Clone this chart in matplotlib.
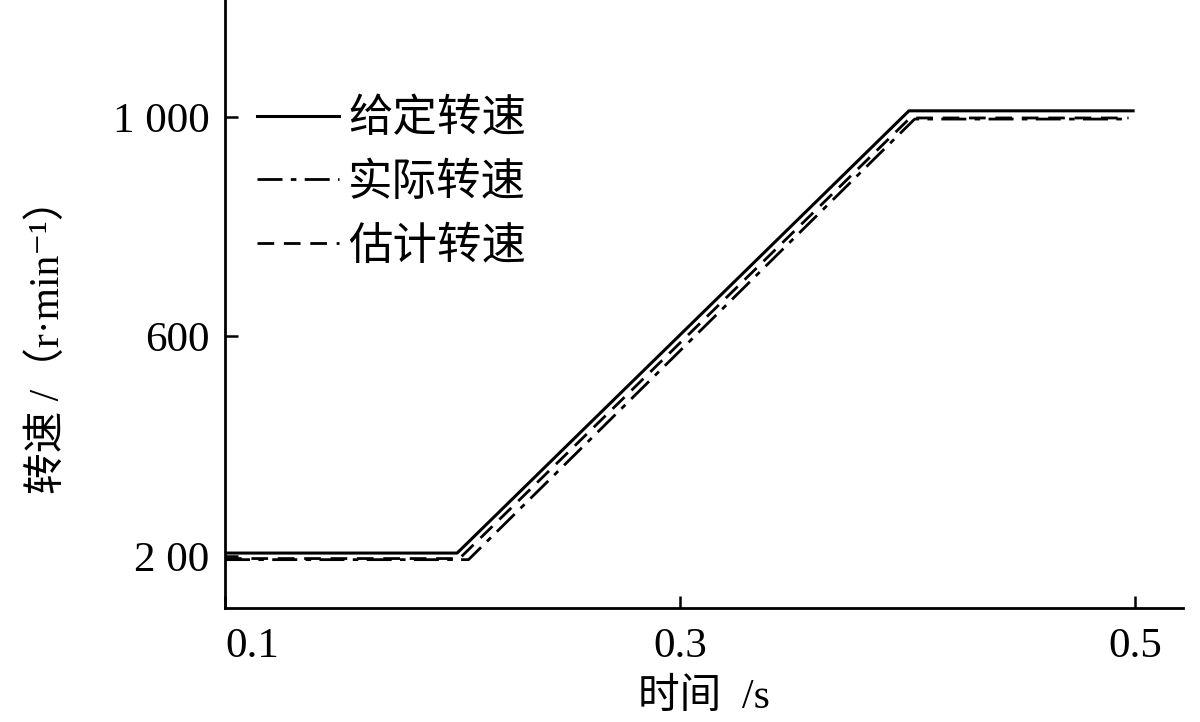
import matplotlib

matplotlib.use("Agg")
import matplotlib.pyplot as plt

plt.rcParams["font.family"] = ["Liberation Serif", "Noto Sans CJK SC", "DejaVu Sans"]

time_given = [0.1, 0.202, 0.4005, 0.499]
speed_given = [205, 205, 1011, 1011]
time_actual = [0.1, 0.207, 0.403, 0.497]
speed_actual = [193, 193, 996, 996]
time_est = [0.1, 0.203, 0.401, 0.497]
speed_est = [195, 195, 998, 998]

labels = ["给定转速", "实际转速", "估计转速"]
xticks = [0.1, 0.3, 0.5]
xtick_labels = ["0.1", "0.3", "0.5"]
yticks = [200, 600, 1000]
ytick_labels = ["2 00", "600", "1 000"]

fig = plt.figure(figsize=(12, 7.22), dpi=100)
ax = fig.add_axes([0.1875, 0.158, 0.7985, 0.842])

ax.plot(time_given, speed_given, color="black", linewidth=2.2, label=labels[0])
ax.plot(time_actual, speed_actual, color="black", linewidth=2.0,
        dashes=(9, 3, 2, 3), label=labels[1])
ax.plot(time_est, speed_est, color="black", linewidth=2.0,
        dashes=(6, 3.5), label=labels[2])

ax.set_xlim(0.1, 0.521)
ax.set_ylim(105, 1213)
ax.set_xticks(xticks, xtick_labels)
ax.set_yticks(yticks, ytick_labels)
ax.get_xticklabels()[0].set_horizontalalignment("left")
ax.tick_params(direction="in", length=9, width=1.8, labelsize=31, pad=11)
ax.tick_params(axis="x", pad=14)

for side in ("top", "right"):
    ax.spines[side].set_visible(False)
for side in ("left", "bottom"):
    ax.spines[side].set_linewidth(2.0)

ax.set_xlabel("时间  /s", fontsize=30, labelpad=9)
ax.set_ylabel("转速 /（r·min⁻¹）", fontsize=30)
ax.yaxis.set_label_coords(-0.164, 0.447)

leg = ax.legend(loc="upper left", bbox_to_anchor=(0.015, 0.867), frameon=False,
                fontsize=32, handlelength=1.85, handletextpad=0.2,
                labelspacing=0.5, borderaxespad=0)

fig.savefig("out.png", dpi=100)
